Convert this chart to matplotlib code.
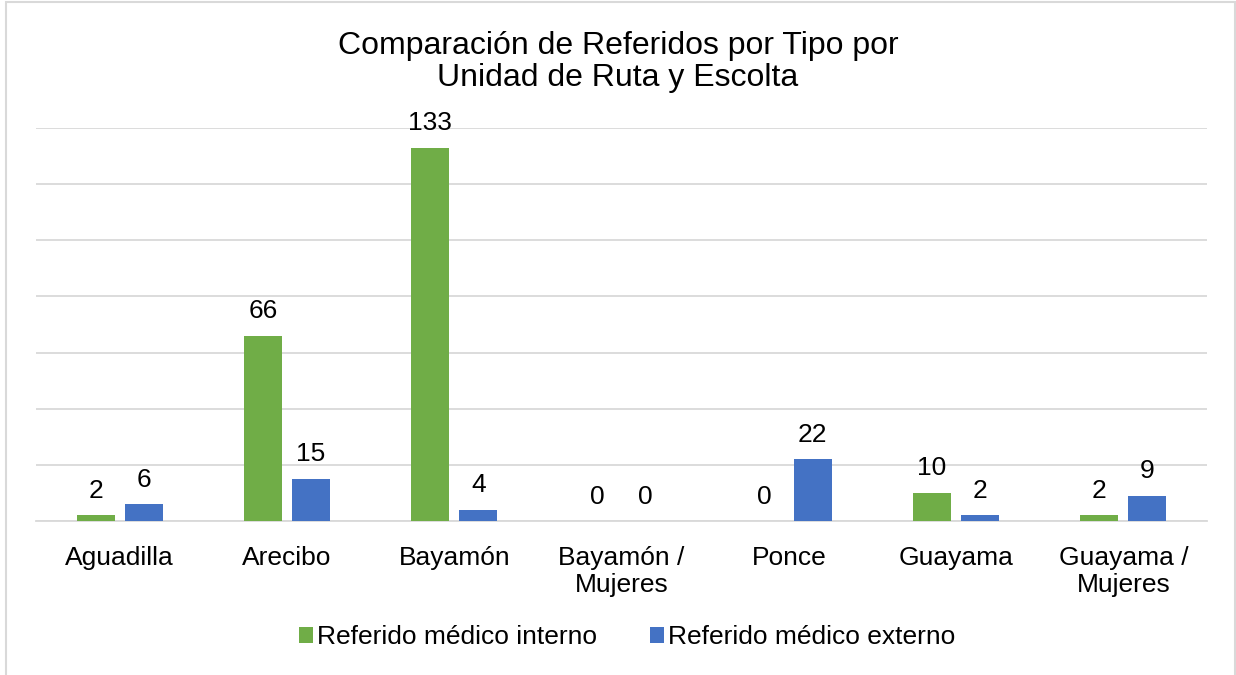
import numpy as np
import matplotlib.pyplot as plt
from matplotlib.patches import Rectangle

plt.rcParams['font.family'] = ['Liberation Sans', 'DejaVu Sans']

categories = ['Aguadilla', 'Arecibo', 'Bayamón', 'Bayamón /\nMujeres', 'Ponce', 'Guayama', 'Guayama /\nMujeres']
interno = [2, 66, 133, 0, 0, 10, 2]
externo = [6, 15, 4, 0, 22, 2, 9]
series_names = ['Referido médico interno', 'Referido médico externo']
colors = ['#70AD47', '#4472C4']

fig = plt.figure(figsize=(12.36, 6.75), dpi=100)
ax = fig.add_axes([36 / 1236, 1 - 521 / 675, 1171 / 1236, 393 / 675])

x = np.arange(len(categories))
w = 0.227
off = 0.144
b1 = ax.bar(x - off, interno, w, color=colors[0], label=series_names[0], zorder=3)
b2 = ax.bar(x + off, externo, w, color=colors[1], label=series_names[1], zorder=3)
for bars in (b1, b2):
    ax.bar_label(bars, padding=9, fontsize=19)

ax.set_xlim(-0.5, len(categories) - 0.5)
ax.set_ylim(0, 140)
ax.set_yticks(range(0, 141, 20))
ax.yaxis.grid(True, color='#D9D9D9', linewidth=1.3, zorder=0)
ax.set_yticklabels([])
ax.tick_params(axis='y', length=0)
ax.tick_params(axis='x', length=0, labelsize=19, pad=18)
ax.set_xticks(x)
ax.set_xticklabels(categories, linespacing=1.15)
for s in ['top', 'right', 'left']:
    ax.spines[s].set_visible(False)
ax.spines['bottom'].set_color('#D9D9D9')
ax.spines['bottom'].set_linewidth(1.3)

fig.text(0.5, 1 - 62 / 675, 'Comparación de Referidos por Tipo por\nUnidad de Ruta y Escolta',
         ha='center', va='center', fontsize=23, linespacing=1.05)

fig.legend(loc='center', bbox_to_anchor=(627 / 1236, 1 - 637 / 675), ncol=2, frameon=False,
           fontsize=19, handlelength=0.55, handleheight=0.55, handletextpad=0.15, columnspacing=2.0)

fig.patches.append(Rectangle((6 / 1236, -0.1), 1229 / 1236, 1.1 - 2 / 675, transform=fig.transFigure,
                             fill=False, edgecolor='#D9D9D9', linewidth=1.5))

fig.savefig('out.png', dpi=100)
